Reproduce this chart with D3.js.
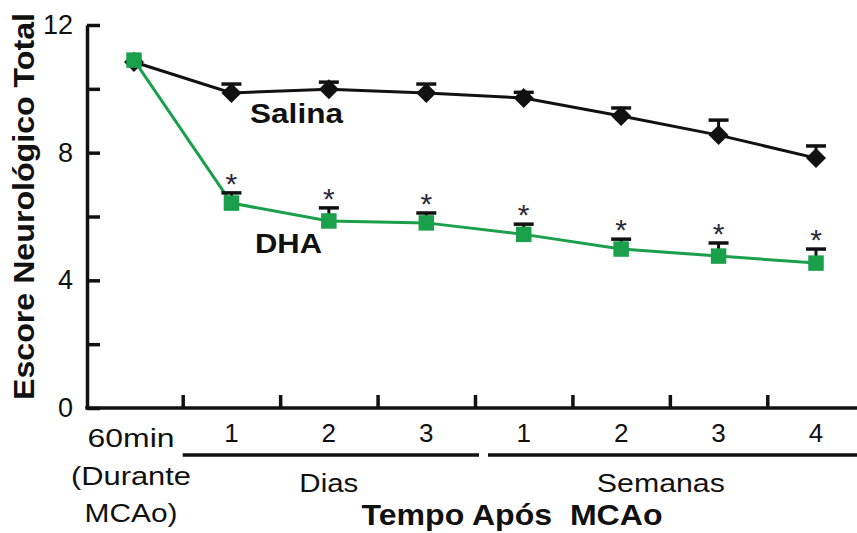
<!DOCTYPE html>
<html>
<head>
<meta charset="utf-8">
<script src="https://cdn.jsdelivr.net/npm/d3@7"></script>
<style>
  html, body { margin: 0; padding: 0; background: #fff; }
  svg { display: block; }
  text { font-family: "Liberation Sans", Arial, sans-serif; }
</style>
</head>
<body>
<svg id="chart" width="857" height="533"></svg>
<script>
// ---- data ----
const tickLabels = ["60min", "1", "2", "3", "1", "2", "3", "4"];
const firstLabelLines = ["60min", "(Durante", "MCAo)"];
const salinaMean = [10.84, 9.87, 9.99, 9.87, 9.71, 9.15, 8.55, 7.83];
const salinaErr  = [0.0, 0.28, 0.22, 0.28, 0.18, 0.25, 0.47, 0.38];
const dhaMean    = [10.90, 6.42, 5.86, 5.80, 5.44, 4.98, 4.76, 4.54];
const dhaErr     = [0.0, 0.32, 0.41, 0.31, 0.32, 0.31, 0.41, 0.44];
const dhaSignif  = [false, true, true, true, true, true, true, true];
const yTicks = [0, 2, 4, 6, 8, 10, 12];
const yTickLabels = [0, 4, 8, 12];
const groups = [
  { label: "Dias", from: 1, to: 3 },
  { label: "Semanas", from: 4, to: 7 }
];
const seriesNames = ["Salina", "DHA"];
const xTitle = "Tempo Após  MCAo";
const yTitle = "Escore Neurológico Total";

// ---- layout ----
const plotLeft = 87, plotRight = 857, plotTop = 25, plotBottom = 408;
const green = "#1a9f4a", black = "#111";

const svg = d3.select("#chart");
const idx = d3.range(tickLabels.length);

const x = d3.scaleLinear().domain([0, idx.length - 1]).range([134, 816]);
const y = d3.scaleLinear().domain([0, 12]).range([plotBottom, plotTop]);

// Y axis
const yAxis = d3.axisLeft(y)
  .tickValues(yTicks)
  .tickSize(-13)
  .tickSizeOuter(0)
  .tickPadding(14)
  .tickFormat(d => yTickLabels.includes(d) ? d : "");
const gy = svg.append("g").attr("transform", `translate(${plotLeft},0)`).call(yAxis);
gy.select(".domain").attr("stroke", black).attr("stroke-width", 3.5);
gy.selectAll(".tick line").attr("stroke", black).attr("stroke-width", 3.5);
gy.selectAll(".tick text").attr("font-size", 27).attr("fill", black)
  .attr("font-family", '"Liberation Sans", Arial, sans-serif');

// X axis baseline
svg.append("line")
  .attr("x1", plotLeft - 1.75).attr("x2", plotRight)
  .attr("y1", plotBottom).attr("y2", plotBottom)
  .attr("stroke", black).attr("stroke-width", 3.5);

// X boundary ticks (between categories)
const bounds = d3.range(0.5, idx.length - 1, 1);
const xAxisTicks = d3.axisTop(x).tickValues(bounds).tickSize(13).tickSizeOuter(0).tickFormat("");
const gx = svg.append("g").attr("transform", `translate(0,${plotBottom})`).call(xAxisTicks);
gx.select(".domain").remove();
gx.selectAll(".tick line").attr("stroke", black).attr("stroke-width", 3.5);

// Category labels
const xLabels = svg.append("g").attr("fill", black).attr("font-size", 26).attr("text-anchor", "middle");
idx.forEach(i => {
  if (i === 0) {
    const lens = [87, 120, 93];
    const ys = [447, 485, 522];
    firstLabelLines.forEach((t, k) => {
      xLabels.append("text")
        .attr("x", x(0) - 3).attr("y", ys[k])
        .attr("textLength", lens[k]).attr("lengthAdjust", "spacingAndGlyphs")
        .text(t);
    });
  } else {
    xLabels.append("text").attr("x", x(i)).attr("y", 442).text(tickLabels[i]);
  }
});

// Group brackets
const gapLeft = x(3.5) + 4, gapRight = x(3.5) + 13;
svg.append("line").attr("x1", x(0.5)).attr("x2", gapLeft)
  .attr("y1", 455).attr("y2", 455).attr("stroke", black).attr("stroke-width", 3.5);
svg.append("line").attr("x1", gapRight).attr("x2", plotRight)
  .attr("y1", 455).attr("y2", 455).attr("stroke", black).attr("stroke-width", 3.5);
const groupLens = [59, 128];
const groupDx = [0, -9];
groups.forEach((g, k) => {
  svg.append("text")
    .attr("x", (x(g.from) + x(g.to)) / 2 + groupDx[k]).attr("y", 492)
    .attr("text-anchor", "middle").attr("font-size", 26).attr("fill", black)
    .attr("textLength", groupLens[k]).attr("lengthAdjust", "spacingAndGlyphs")
    .text(g.label);
});

// Axis titles
svg.append("text")
  .attr("x", 512).attr("y", 525)
  .attr("text-anchor", "middle").attr("font-size", 29).attr("font-weight", "bold")
  .attr("fill", black).style("white-space", "pre")
  .attr("textLength", 301).attr("lengthAdjust", "spacingAndGlyphs")
  .text(xTitle);
svg.append("text")
  .attr("transform", `translate(34,${(13 + 400) / 2}) rotate(-90)`)
  .attr("text-anchor", "middle").attr("font-size", 30).attr("font-weight", "bold")
  .attr("fill", black)
  .attr("textLength", 387).attr("lengthAdjust", "spacingAndGlyphs")
  .text(yTitle);

// ---- series ----
const line = d3.line().x((d, i) => x(i)).y(d => y(d));

function drawSeries(mean, err, color, symbolType, symbolSize, rotate) {
  const g = svg.append("g");
  g.append("path").datum(mean)
    .attr("d", line).attr("fill", "none")
    .attr("stroke", color).attr("stroke-width", 3);
  // error bars (upper)
  idx.forEach(i => {
    if (err[i] <= 0) return;
    g.append("line").attr("x1", x(i)).attr("x2", x(i))
      .attr("y1", y(mean[i])).attr("y2", y(mean[i] + err[i]))
      .attr("stroke", black).attr("stroke-width", 3);
    g.append("line").attr("x1", x(i) - 10).attr("x2", x(i) + 10)
      .attr("y1", y(mean[i] + err[i])).attr("y2", y(mean[i] + err[i]))
      .attr("stroke", black).attr("stroke-width", 3.5);
  });
  const sym = d3.symbol().type(symbolType).size(symbolSize);
  g.selectAll(".mk").data(mean).join("path")
    .attr("d", sym)
    .attr("transform", (d, i) => `translate(${x(i)},${y(d)}) rotate(${rotate})`)
    .attr("fill", color);
  return g;
}

drawSeries(salinaMean, salinaErr, black, d3.symbolSquare, 200, 45);
drawSeries(dhaMean, dhaErr, green, d3.symbolSquare, 240, 0);

// significance asterisks
svg.append("g").selectAll("text")
  .data(idx.filter(i => dhaSignif[i]))
  .join("text")
  .attr("x", i => x(i))
  .attr("y", i => y(dhaMean[i] + dhaErr[i]) + 1)
  .attr("text-anchor", "middle").attr("font-size", 30).attr("fill", "#2a2a3a")
  .text("*");

// series labels
svg.append("text").attr("x", 250).attr("y", 123)
  .attr("font-size", 27).attr("font-weight", "bold").attr("fill", black)
  .attr("textLength", 93).attr("lengthAdjust", "spacingAndGlyphs")
  .text(seriesNames[0]);
svg.append("text").attr("x", 255).attr("y", 253)
  .attr("font-size", 27).attr("font-weight", "bold").attr("fill", black)
  .attr("textLength", 67).attr("lengthAdjust", "spacingAndGlyphs")
  .text(seriesNames[1]);
</script>
</body>
</html>
